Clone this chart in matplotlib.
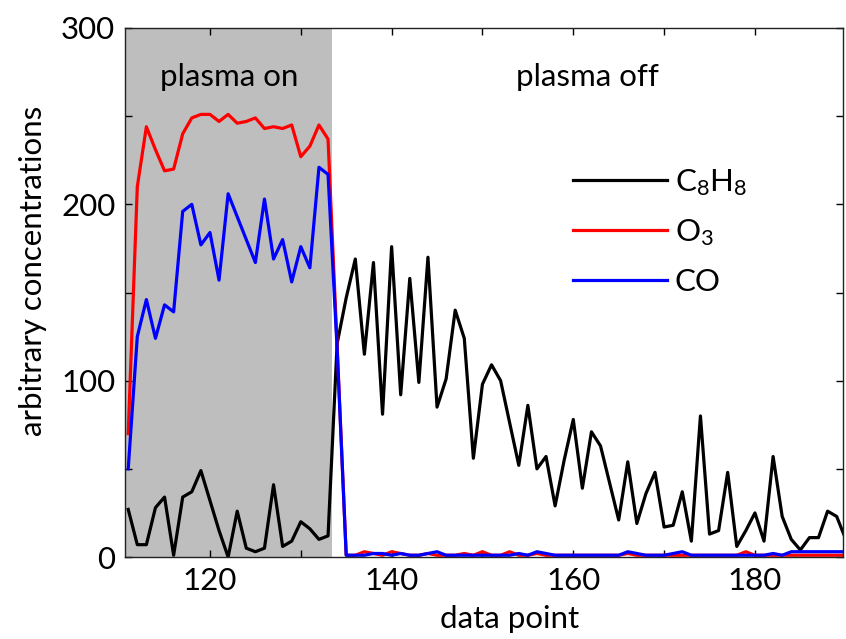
import numpy as np
import matplotlib
matplotlib.use("Agg")
from matplotlib import pyplot as plt

plt.rcParams['font.family'] = ['Lato', 'DejaVu Sans']
plt.rcParams['mathtext.default'] = 'regular'

# data points 111 .. 190
points = np.arange(111, 191)

c8h8 = [27, 7, 7, 28, 34, 1, 34, 37, 49, 32,
        15, 0, 26, 5, 3, 5, 41, 6, 9, 20,
        16, 10, 12, 121, 147, 169, 115, 167, 81, 176,
        92, 158, 99, 170, 85, 101, 140, 124, 56, 98,
        109, 100, 76, 52, 86, 50, 57, 29, 55, 78,
        39, 71, 63, 42, 21, 54, 19, 36, 48, 17,
        18, 37, 9, 80, 13, 15, 48, 6, 15, 25,
        9, 57, 23, 10, 4, 11, 11, 26, 23, 10]

o3 = [70, 210, 244, 231, 219, 220, 240, 249, 251, 251,
      247, 251, 246, 247, 249, 243, 244, 243, 245, 227,
      233, 245, 237, 120, 1, 1, 3, 2, 1, 3,
      2, 1, 1, 2, 1, 1, 1, 2, 1, 3,
      1, 1, 3, 1, 1, 2, 1, 1, 1, 1,
      1, 1, 1, 1, 1, 2, 1, 1, 1, 1,
      1, 1, 1, 1, 1, 1, 1, 1, 3, 1,
      1, 1, 1, 1, 1, 1, 1, 1, 1, 1]

co = [50, 125, 146, 124, 143, 139, 196, 200, 177, 184,
      157, 206, 193, 180, 167, 203, 169, 180, 156, 176,
      164, 221, 217, 118, 1, 1, 1, 2, 2, 1,
      2, 1, 1, 2, 3, 1, 1, 1, 1, 1,
      1, 1, 1, 2, 1, 3, 2, 1, 1, 1,
      1, 1, 1, 1, 1, 3, 2, 1, 1, 1,
      2, 3, 1, 1, 1, 1, 1, 1, 1, 1,
      1, 2, 1, 3, 3, 3, 3, 3, 3, 3]

fig = plt.figure(figsize=(8.46, 6.39), dpi=100)
ax = fig.add_axes([0.1478, 0.1283, 0.8487, 0.8279])

ax.axvspan(110, 133.45, color='#bebebe', zorder=0, lw=0)

ax.plot(points, c8h8, color='black', lw=2.3, label='$C_8H_8$')
ax.plot(points, o3, color='#ff0000', lw=2.3, label='$O_3$')
ax.plot(points, co, color='#0000ff', lw=2.3, label='CO')

ax.set_xlim(110.65, 189.7)
ax.set_ylim(0, 300)

xt = np.arange(120, 190, 10)
ax.set_xticks(xt)
ax.set_xticklabels([str(t) if t % 20 == 0 else '' for t in xt])
yt = np.arange(0, 301, 50)
ax.set_yticks(yt)
ax.set_yticklabels([str(t) if t % 100 == 0 else '' for t in yt])
ax.tick_params(direction='in', length=5, width=1, top=True, right=True,
               labelsize=22.5, pad=7)

for s in ax.spines.values():
    s.set_color('#222222')
    s.set_linewidth(1)

ax.text(122.1, 272, 'plasma on', fontsize=22.5, ha='center', va='center')
ax.text(161.6, 272, 'plasma off', fontsize=22.5, ha='center', va='center')

ax.set_xlabel('data point', fontsize=22.5)
ax.xaxis.set_label_coords(0.536, -0.09)
ax.set_ylabel('arbitrary concentrations', fontsize=22.5)
ax.yaxis.set_label_coords(-0.108, 0.54)

ax.legend(loc='upper left', bbox_to_anchor=(0.585, 0.79), frameon=False,
          fontsize=22.5, handlelength=3.0, labelspacing=0.62, handletextpad=0.25)

fig.savefig('out.png', dpi=100)
